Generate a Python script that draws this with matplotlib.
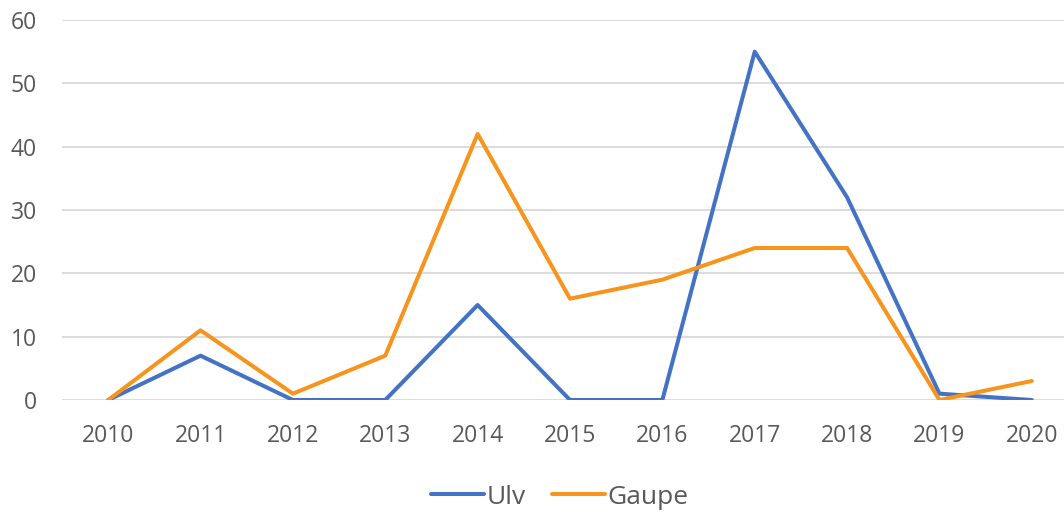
import matplotlib
matplotlib.use("Agg")
from matplotlib import pyplot as plt

years = ["2010", "2011", "2012", "2013", "2014", "2015", "2016", "2017", "2018", "2019", "2020"]
ulv = [0, 7, 0, 0, 15, 0, 0, 55, 32, 1, 0]
gaupe = [0, 11, 1, 7, 42, 16, 19, 24, 24, 0, 3]

plt.rcParams['font.family'] = ['Open Sans', 'DejaVu Sans']

fig = plt.figure(figsize=(10.64, 5.16), dpi=100)
# plot area: x from 62 px to past right edge, y 0 at 400 px, 60 at 20 px
ax = fig.add_axes([62/1064, (516-400)/516, (1078-62)/1064, 380/516])

x = range(len(years))
ax.plot(x, ulv, color='#4472C4', lw=2.9, label='Ulv', solid_joinstyle='round', solid_capstyle='round')
ax.plot(x, gaupe, color='#F7941D', lw=2.9, label='Gaupe', solid_joinstyle='round', solid_capstyle='round')

ax.set_xlim(-0.5, len(years) - 0.5)
ax.set_ylim(0, 60)
ax.set_yticks(range(0, 61, 10))
ax.set_xticks(list(x))
ax.set_xticklabels(years)
ax.grid(axis='y', color='#D9D9D9', lw=1.3)
ax.set_axisbelow(True)
for s in ax.spines.values():
    s.set_visible(False)
ax.tick_params(length=0, labelsize=16.5, colors='#595959')
ax.tick_params(axis='y', pad=18)
ax.tick_params(axis='x', pad=17)

leg = fig.legend(loc='center', bbox_to_anchor=(560/1064, 1 - 497/516), ncol=2, frameon=False,
                 fontsize=19, handlelength=2.0, handletextpad=0.1, columnspacing=1.0, labelcolor='#595959')

fig.savefig("out.png", dpi=100)
